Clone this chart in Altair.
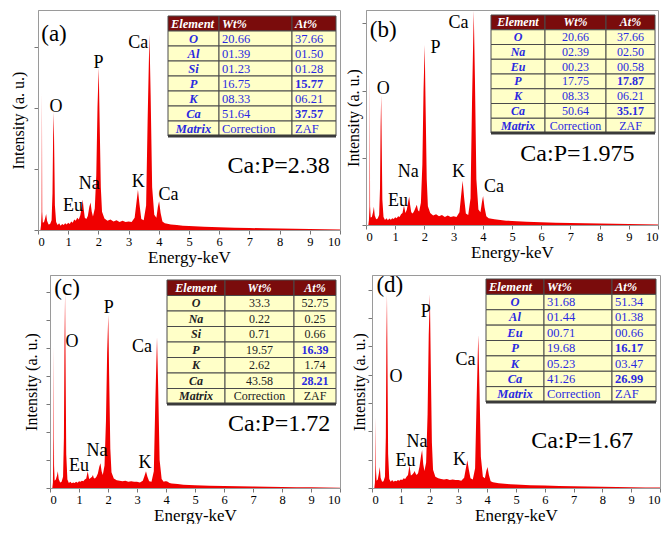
import altair as alt
import pandas as pd

FONT = "Liberation Serif"
RED = "#F00000"

# ---------------- spectra (shared energy grid, keV) ----------------
energy = [0.00, 0.08, 0.10, 0.12, 0.13, 0.14, 0.16, 0.20, 0.24, 0.27,
          0.30, 0.35, 0.40, 0.45, 0.48, 0.50, 0.52, 0.54, 0.56, 0.60,
          0.65, 0.70, 0.75, 0.80, 0.85, 0.90, 0.95, 1.00, 1.05, 1.10,
          1.15, 1.20, 1.25, 1.30, 1.35, 1.40, 1.45, 1.48, 1.51, 1.55,
          1.60, 1.65, 1.70, 1.74, 1.78, 1.82, 1.88, 1.93, 1.97, 2.01,
          2.04, 2.08, 2.12, 2.20, 2.30, 2.40, 2.50, 2.60, 2.70, 2.80,
          2.90, 3.00, 3.10, 3.20, 3.26, 3.31, 3.36, 3.42, 3.50, 3.58,
          3.63, 3.69, 3.73, 3.78, 3.85, 3.92, 3.97, 4.01, 4.06, 4.12,
          4.20, 4.40, 4.60, 4.80, 5.00, 5.50, 6.00, 6.50, 7.00, 7.50,
          8.00, 8.50, 9.00, 9.50, 10.00]

counts_a = [0, 0, 80, 300, 2250, 300, 120, 130, 200, 260,
            150, 90, 100, 160, 600, 1500, 1930, 1200, 400, 130,
            80, 110, 70, 100, 80, 110, 90, 120, 100, 140,
            120, 170, 150, 200, 170, 240, 380, 500, 350, 200,
            180, 230, 380, 450, 300, 220, 350, 900, 2000, 2660,
            1800, 700, 300, 190, 150, 170, 140, 160, 130, 150,
            130, 140, 130, 200, 450, 660, 420, 180, 160, 400,
            1800, 3200, 2200, 700, 250, 200, 380, 470, 280, 140,
            110, 90, 80, 70, 65, 55, 45, 38, 32, 28,
            24, 20, 16, 12, 8]

counts_b = [0, 0, 70, 280, 2260, 280, 110, 120, 190, 270,
            140, 85, 95, 150, 550, 1450, 1930, 1150, 380, 120,
            75, 100, 70, 95, 80, 100, 90, 115, 100, 130,
            120, 160, 180, 290, 180, 230, 360, 420, 300, 190,
            170, 210, 260, 300, 220, 200, 330, 900, 2000, 2680,
            1800, 680, 280, 180, 140, 160, 130, 150, 120, 140,
            120, 130, 120, 190, 450, 660, 410, 170, 150, 400,
            1800, 3190, 2200, 680, 230, 190, 340, 430, 260, 130,
            100, 85, 75, 65, 60, 50, 42, 35, 30, 26,
            22, 18, 14, 11, 7]

counts_c = [0, 0, 100, 900, 2530, 400, 130, 150, 220, 300,
            160, 100, 110, 200, 900, 2600, 3480, 2000, 600, 150,
            90, 110, 85, 100, 90, 110, 95, 120, 110, 130,
            120, 150, 170, 300, 160, 180, 200, 230, 180, 170,
            200, 260, 380, 440, 300, 230, 400, 1200, 2400, 3090,
            2000, 700, 280, 170, 140, 130, 120, 130, 110, 120,
            110, 110, 100, 130, 220, 300, 200, 120, 110, 300,
            1500, 2690, 1800, 500, 160, 110, 120, 120, 110, 90,
            80, 70, 60, 55, 50, 42, 36, 30, 26, 22,
            18, 15, 12, 9, 6]

counts_d = [0, 0, 90, 400, 1250, 300, 130, 150, 260, 370,
            180, 110, 120, 200, 900, 2600, 3420, 2000, 600, 160,
            110, 140, 110, 130, 120, 140, 130, 150, 140, 170,
            160, 200, 230, 400, 220, 240, 270, 300, 260, 230,
            260, 380, 560, 670, 420, 300, 450, 1300, 2700, 3420,
            2200, 800, 320, 200, 170, 160, 150, 160, 140, 150,
            140, 140, 130, 180, 350, 490, 330, 170, 150, 350,
            1500, 2700, 1800, 550, 200, 170, 300, 370, 230, 120,
            100, 85, 75, 65, 60, 50, 42, 36, 30, 26,
            22, 18, 14, 11, 7]

# ---------------- peak labels ----------------
peak_names_a = ["O", "Eu", "Na", "P", "K", "Ca", "Ca"]
peak_E_a = [0.60, 1.16, 1.70, 2.00, 3.32, 3.32, 4.32]
peak_I_a = [2010, 390, 745, 2740, 780, 3060, 580]

peak_names_b = ["O", "Eu", "Na", "P", "K", "Ca", "Ca"]
peak_E_b = [0.59, 1.10, 1.45, 2.38, 3.17, 3.17, 4.38]
peak_I_b = [2030, 360, 790, 2630, 790, 3000, 570]

peak_names_c = ["O", "Eu", "Na", "P", "K", "Ca"]
peak_E_c = [0.76, 1.00, 1.62, 2.03, 3.28, 3.17]
peak_I_c = [2600, 390, 660, 3220, 440, 2510]

peak_names_d = ["O", "Eu", "Na", "P", "K", "Ca"]
peak_E_d = [0.83, 1.16, 1.56, 1.87, 3.04, 3.25]
peak_I_d = [1960, 470, 820, 3110, 490, 2260]

panel_labels = ["(a)", "(b)", "(c)", "(d)"]
panel_label_E = [0.53, 0.59, 0.59, 0.62]
panel_label_I = [3210, 2900, 3570, 3580]

ratio_texts = ["Ca:P=2.38", "Ca:P=1.975", "Ca:P=1.72", "Ca:P=1.67"]
ratio_E = [7.97, 7.24, 7.90, 7.30]
ratio_I = [1040, 1060, 1150, 830]

# ---------------- tables ----------------
table_header = ["Element", "Wt%", "At%"]
table_elements_a = ["O", "Al", "Si", "P", "K", "Ca", "Matrix"]
table_wt_a = ["20.66", "01.39", "01.23", "16.75", "08.33", "51.64", "Correction"]
table_at_a = ["37.66", "01.50", "01.28", "15.77", "06.21", "37.57", "ZAF"]

table_elements_b = ["O", "Na", "Eu", "P", "K", "Ca", "Matrix"]
table_wt_b = ["20.66", "02.39", "00.23", "17.75", "08.33", "50.64", "Correction"]
table_at_b = ["37.66", "02.50", "00.58", "17.87", "06.21", "35.17", "ZAF"]

table_elements_c = ["O", "Na", "Si", "P", "K", "Ca", "Matrix"]
table_wt_c = ["33.3", "0.22", "0.71", "19.57", "2.62", "43.58", "Correction"]
table_at_c = ["52.75", "0.25", "0.66", "16.39", "1.74", "28.21", "ZAF"]

table_elements_d = ["O", "Al", "Eu", "P", "K", "Ca", "Matrix"]
table_wt_d = ["31.68", "01.44", "00.71", "19.68", "05.23", "41.26", "Correction"]
table_at_d = ["51.34", "01.38", "00.66", "16.17", "03.47", "26.99", "ZAF"]

bold_at_elements = ["P", "Ca"]

HEADER_BG = "#7A0C0C"
BODY_BG = "#FFFFC8"
BLUE = "#2A2AE0"
DARK = "#222222"


def build_table(elements, wt, at, col_w, xr, yr, align, val_color, el_color, fsize):
    total = sum(col_w)
    edges = [0, col_w[0], col_w[0] + col_w[1], total]
    rects, texts = [], []
    rows = [table_header] + [[e, w, a] for e, w, a in zip(elements, wt, at)]
    for r, row in enumerate(rows):
        for c, txt in enumerate(row):
            x0, x1 = edges[c], edges[c + 1]
            rects.append({"row": r, "x0": x0, "x1": x1,
                          "bg": HEADER_BG if r == 0 else BODY_BG})
            if r == 0:
                color, weight, style = "white", "bold", "italic"
                al = align
            elif c == 0:
                color, weight, style = el_color, "bold", "italic"
                al = "center"
            else:
                weight = "bold" if (c == 2 and row[0] in bold_at_elements) else "normal"
                color = BLUE if weight == "bold" else val_color
                style = "normal"
                al = align
            tx = (x0 + 3) if al == "left" else (x0 + x1) / 2
            texts.append({"row": r, "tx": tx, "t": txt, "col": color,
                          "w": weight, "s": style, "al": al})
    rdf = pd.DataFrame(rects)
    tdf = pd.DataFrame(texts)
    xs = alt.Scale(domain=[0, total], range=xr, nice=False, zero=False)
    ys = alt.Scale(domain=list(range(8)), range=yr, paddingInner=0, paddingOuter=0)
    rect = alt.Chart(rdf).mark_rect(stroke="#4a4a4a", strokeWidth=1).encode(
        x=alt.X("x0:Q", scale=xs, axis=None),
        x2="x1:Q",
        y=alt.Y("row:O", scale=ys, axis=None),
        color=alt.Color("bg:N", scale=None),
    )
    bottom = alt.Chart(pd.DataFrame({"row": [7], "x0": [0], "x1": [total]})).mark_rule(
        color="#3a3a3a", strokeWidth=3).encode(
        x=alt.X("x0:Q", scale=xs, axis=None),
        x2="x1:Q",
        y=alt.Y("row:O", scale=ys, axis=None, bandPosition=1),
    )
    layers = [rect, bottom]
    for (w, s, al), sub in tdf.groupby(["w", "s", "al"]):
        layers.append(
            alt.Chart(sub).mark_text(font=FONT, fontSize=fsize, fontWeight=w,
                                     fontStyle=s, align=al, baseline="middle").encode(
                x=alt.X("tx:Q", scale=xs, axis=None),
                y=alt.Y("row:O", scale=ys, axis=None),
                text="t:N",
                color=alt.Color("col:N", scale=None),
            )
        )
    return alt.layer(*layers)


def panel(i, counts, ymax, ystep, width, height, tpad, names, pe, pi, table):
    x_enc = alt.X("E:Q", scale=alt.Scale(domain=[0, 10], nice=False),
                  axis=alt.Axis(values=list(range(11)), title="Energy-keV",
                                labelPadding=1, titlePadding=2, labelFlush=True))
    yvals = list(range(0, ymax + 1, ystep))
    y_enc = alt.Y("I:Q", scale=alt.Scale(domain=[0, ymax], nice=False),
                  axis=alt.Axis(values=yvals, labels=False, title="Intensity (a. u.)",
                                titlePadding=tpad))
    sdf = pd.DataFrame({"E": energy, "I": counts})
    area = alt.Chart(sdf).mark_area(color=RED, interpolate="linear", clip=True).encode(
        x=x_enc, y=y_enc)
    pdf = pd.DataFrame({"E": pe, "I": pi, "t": names})
    peaks = alt.Chart(pdf).mark_text(font=FONT, fontSize=18, color="black").encode(
        x=x_enc, y=y_enc, text="t:N")
    ldf = pd.DataFrame({"E": [panel_label_E[i]], "I": [panel_label_I[i]], "t": [panel_labels[i]]})
    lab = alt.Chart(ldf).mark_text(font=FONT, fontSize=23, color="black").encode(
        x=x_enc, y=y_enc, text="t:N")
    rdf = pd.DataFrame({"E": [ratio_E[i]], "I": [ratio_I[i]], "t": [ratio_texts[i]]})
    rat = alt.Chart(rdf).mark_text(font=FONT, fontSize=24, color="black").encode(
        x=x_enc, y=y_enc, text="t:N")
    spec = alt.layer(area, peaks, lab, rat)
    return alt.layer(spec, table).resolve_scale(
        x="independent", y="independent").properties(
        width=width, height=height, view=alt.ViewBackground(stroke="#9a9a9a", strokeWidth=1))


tab_a = build_table(table_elements_a, table_wt_a, table_at_a, [51, 73, 44],
                    [130, 298], [6, 126], "left", BLUE, BLUE, 12.5)
tab_b = build_table(table_elements_b, table_wt_b, table_at_b, [54, 61, 49],
                    [125, 289], [5, 123], "center", BLUE, BLUE, 12)
tab_c = build_table(table_elements_c, table_wt_c, table_at_c, [58, 69, 42],
                    [117, 286], [5, 129], "center", DARK, DARK, 12)
tab_d = build_table(table_elements_d, table_wt_d, table_at_d, [58, 68, 44],
                    [114, 284], [4, 127], "left", BLUE, BLUE, 12.5)

pa = panel(0, counts_a, 3600, 1000, 302, 220, 7, peak_names_a, peak_E_a, peak_I_a, tab_a)
pb = panel(1, counts_b, 3200, 1000, 292, 215, 0, peak_names_b, peak_E_b, peak_I_b, tab_b)
pc = panel(2, counts_c, 3800, 500, 290, 213, 6, peak_names_c, peak_E_c, peak_I_c, tab_c)
pd_ = panel(3, counts_d, 3760, 500, 288, 213, 0, peak_names_d, peak_E_d, peak_I_d, tab_d)


def spacer(w):
    return alt.Chart(pd.DataFrame({"z": []})).mark_point(opacity=0).encode(
        x=alt.value(0), y=alt.value(0)).properties(width=w, height=10)


top = alt.hconcat(spacer(2), alt.hconcat(pa, pb, spacing=4), spacing=0)
bottom = alt.hconcat(spacer(15), alt.hconcat(pc, pd_, spacing=10), spacing=0)

chart = alt.vconcat(top, bottom, spacing=7).properties(
    padding={"left": 0, "top": 1, "right": 0, "bottom": 0}
).configure_view(stroke=None).configure_axis(
    labelFont=FONT, titleFont=FONT, labelFontSize=12.5, labelColor="black",
    titleColor="black", titleFontWeight="normal", tickSize=4, tickColor="#777",
    domainColor="#9a9a9a", grid=False
).configure_axisX(titleFontSize=17).configure_axisY(titleFontSize=16)

chart.save("out.html", embed_options={"renderer": "svg", "actions": False})
